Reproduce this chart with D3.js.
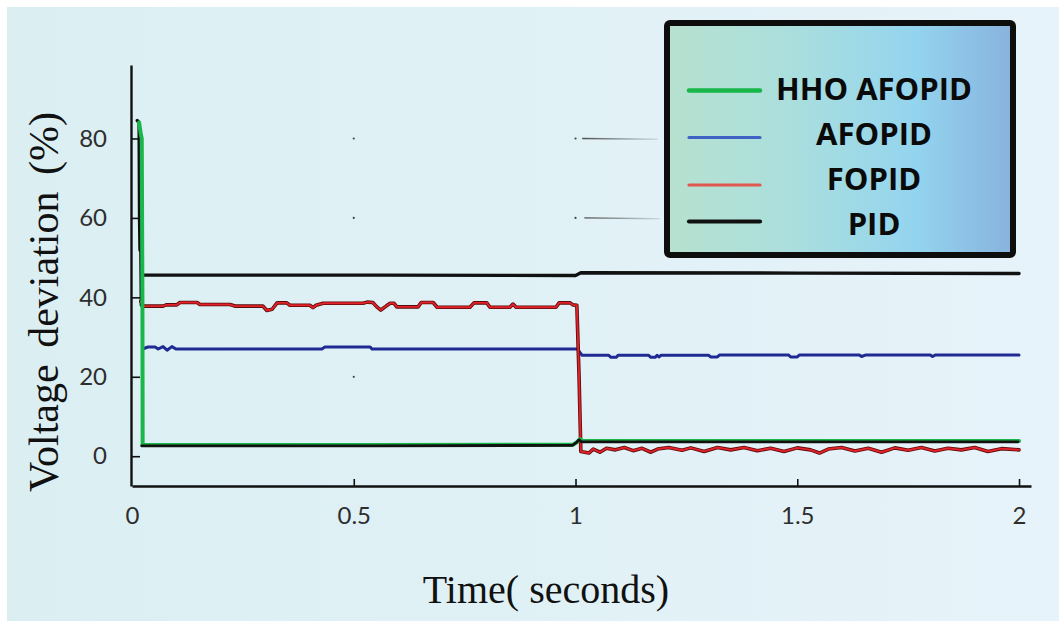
<!DOCTYPE html>
<html>
<head>
<meta charset="utf-8">
<script src="https://cdn.jsdelivr.net/npm/d3@7"></script>
<style>
  html, body { margin: 0; padding: 0; background: #ffffff; }
  svg { display: block; }
</style>
</head>
<body>
<svg id="chart" width="1059" height="621"></svg>
<script>
// ---- data ---------------------------------------------------------------
const xTicks = [0, 0.5, 1, 1.5, 2];
const yTicks = [0, 20, 40, 60, 80];
const seriesNames = ["HHO AFOPID", "AFOPID", "FOPID", "PID"];

// [time (s), voltage deviation (%)]
const hhoAfopid = [
  [0.016, 84], [0.020, 81], [0.022, 80], [0.0235, 40], [0.024, 2.8],
  [0.55, 2.8], [0.995, 2.9], [1.004, 3.6], [1.010, 4.3], [1.016, 3.8],
  [1.5, 3.8], [2.0, 3.8]
];

const afopid = [
  [0.024, 27.0], [0.036, 27.5], [0.052, 27.5], [0.059, 27.0], [0.070, 27.6],
  [0.079, 26.7], [0.090, 27.6], [0.099, 27.0], [0.428, 27.0], [0.435, 27.5],
  [0.537, 27.5], [0.541, 27.0], [1.004, 27.0], [1.015, 25.4], [1.075, 25.4],
  [1.080, 24.9], [1.092, 24.9], [1.096, 25.4], [1.165, 25.4], [1.170, 24.9],
  [1.180, 24.9], [1.184, 25.4], [1.188, 25.0], [1.193, 25.4], [1.300, 25.4],
  [1.305, 25.0], [1.320, 25.0], [1.325, 25.5], [1.480, 25.5], [1.485, 25.0],
  [1.500, 25.0], [1.505, 25.5], [1.640, 25.5], [1.645, 25.1], [1.655, 25.5],
  [1.800, 25.5], [1.805, 25.1], [1.812, 25.5], [2.0, 25.5]
];

const fopid = [
  [0.020, 39.0], [0.025, 37.8], [0.070, 37.8], [0.077, 38.1], [0.101, 38.1],
  [0.108, 38.7], [0.147, 38.7], [0.153, 38.2], [0.221, 38.2], [0.232, 37.8],
  [0.295, 37.8], [0.304, 36.7], [0.316, 37.0], [0.327, 38.6], [0.349, 38.6],
  [0.356, 38.0], [0.401, 38.0], [0.408, 37.4], [0.415, 38.0], [0.431, 38.5],
  [0.521, 38.5], [0.530, 38.8], [0.543, 38.7], [0.552, 37.6], [0.561, 36.8],
  [0.573, 37.8], [0.582, 38.5], [0.591, 38.5], [0.597, 37.6], [0.645, 37.6],
  [0.652, 38.7], [0.679, 38.7], [0.688, 37.5], [0.762, 37.5], [0.771, 38.6],
  [0.800, 38.6], [0.807, 37.5], [0.852, 37.5], [0.859, 38.3], [0.866, 37.5],
  [0.956, 37.5], [0.963, 38.6], [0.988, 38.6], [0.994, 38.1], [1.003, 38.0],
  [1.008, 20.0], [1.012, 1.2], [1.030, 0.8], [1.040, 1.8], [1.055, 1.0],
  [1.070, 2.0], [1.090, 1.6], [1.110, 2.2], [1.130, 1.4], [1.150, 2.0],
  [1.170, 1.0], [1.185, 1.8], [1.210, 2.2], [1.240, 1.5], [1.260, 2.1],
  [1.290, 1.2], [1.320, 2.2], [1.350, 1.6], [1.380, 2.2], [1.410, 1.4],
  [1.440, 2.0], [1.470, 1.2], [1.500, 2.1], [1.530, 1.6], [1.550, 0.8],
  [1.570, 1.8], [1.600, 2.2], [1.630, 1.3], [1.660, 2.0], [1.690, 1.0],
  [1.720, 2.1], [1.750, 1.5], [1.780, 2.2], [1.810, 1.3], [1.840, 2.0],
  [1.870, 1.6], [1.900, 2.2], [1.930, 1.2], [1.960, 1.9], [2.0, 1.6]
];

const pid = [
  [0.012, 84.5], [0.016, 84], [0.017, 60], [0.018, 52], [0.020, 51.5],
  [0.021, 38], [0.023, 45.6], [0.55, 45.6], [1.0, 45.5], [1.012, 46.2],
  [1.5, 46.1], [2.0, 46.0]
];

// faint remnants of grid marks
const gridDots = [[0.5, 80], [0.5, 60], [0.5, 20], [1.0, 80], [1.0, 60]];
const gridStubs = [[1.015, 1.185, 80], [1.02, 1.19, 60]];

// ---- layout ---------------------------------------------------------------
const svg = d3.select("#chart");
const x = d3.scaleLinear().domain([0, 2.027]).range([132, 1031]);
const y = d3.scaleLinear().domain([-7.5, 98.5]).range([486, 65]);

const defs = svg.append("defs");
const bg = defs.append("linearGradient").attr("id", "bgGrad")
  .attr("x1", "0").attr("x2", "1").attr("y1", "0").attr("y2", "0");
bg.append("stop").attr("offset", "0").attr("stop-color", "#dbeff3");
bg.append("stop").attr("offset", "0.5").attr("stop-color", "#e0f1f6");
bg.append("stop").attr("offset", "1").attr("stop-color", "#e7f3fa");

const lg = defs.append("linearGradient").attr("id", "legGrad")
  .attr("x1", "0").attr("x2", "1").attr("y1", "0").attr("y2", "0");
lg.append("stop").attr("offset", "0").attr("stop-color", "#b7e1cf");
lg.append("stop").attr("offset", "0.35").attr("stop-color", "#abdfdd");
lg.append("stop").attr("offset", "0.72").attr("stop-color", "#93d4ee");
lg.append("stop").attr("offset", "1").attr("stop-color", "#88b2de");

const stubGrad = defs.append("linearGradient").attr("id", "stubGrad")
  .attr("x1", "0").attr("x2", "1").attr("y1", "0").attr("y2", "0");
stubGrad.append("stop").attr("offset", "0").attr("stop-color", "#333").attr("stop-opacity", 0.85);
stubGrad.append("stop").attr("offset", "1").attr("stop-color", "#555").attr("stop-opacity", 0.15);

// background panel
svg.append("rect").attr("x", 7).attr("y", 7).attr("width", 1052).attr("height", 614)
  .attr("fill", "url(#bgGrad)");

// grid remnants
svg.append("g").selectAll("circle").data(gridDots).join("circle")
  .attr("cx", d => x(d[0])).attr("cy", d => y(d[1])).attr("r", 1.1)
  .attr("fill", "#3a4a4a");
svg.append("g").selectAll("line").data(gridStubs).join("line")
  .attr("x1", d => x(d[0])).attr("x2", d => x(d[1]))
  .attr("y1", d => y(d[2])).attr("y2", d => y(d[2]) + 0.8)
  .attr("stroke", "url(#stubGrad)").attr("stroke-width", 1.4);

// axes
const xAxis = d3.axisBottom(x).tickValues(xTicks).tickFormat(d => String(d))
  .tickSizeInner(-7).tickSizeOuter(0).tickPadding(21);
const yAxis = d3.axisLeft(y).tickValues(yTicks).tickFormat(d => String(d))
  .tickSizeInner(-9).tickSizeOuter(0).tickPadding(24);

const gx = svg.append("g").attr("transform", "translate(0,486)").call(xAxis);
const gy = svg.append("g").attr("transform", "translate(131,0)").call(yAxis);
[gx, gy].forEach(g => {
  g.select(".domain").attr("stroke", "#111").attr("stroke-width", 2.4);
  g.selectAll(".tick line").attr("stroke", "#111").attr("stroke-width", 1.6);
  g.selectAll(".tick text").attr("fill", "#2e2e2e")
    .style("font-family", "Lato, 'Open Sans', sans-serif")
    .style("font-size", "24px");
});
gx.selectAll(".tick").filter(d => d === 0).select("line").remove();

// series
const line = d3.line().x(d => x(d[0])).y(d => y(d[1])).curve(d3.curveLinear);
const plot = svg.append("g").attr("fill", "none")
  .attr("stroke-linejoin", "round").attr("stroke-linecap", "round");

plot.append("path").datum(pid).attr("d", line)
  .attr("stroke", "#111").attr("stroke-width", 3.4);

plot.append("path").datum(afopid).attr("d", line)
  .attr("stroke", "#1f2b92").attr("stroke-width", 3);

plot.append("path").datum(fopid).attr("d", line)
  .attr("stroke", "#5a0a0a").attr("stroke-width", 3.6);
plot.append("path").datum(fopid).attr("d", line)
  .attr("stroke", "#e3222a").attr("stroke-width", 1.9);

plot.append("path").datum(hhoAfopid).attr("d", line)
  .attr("stroke", "#19b64a").attr("stroke-width", 4);
// dark trace along the settled part of the HHO AFOPID response
plot.append("path").datum(hhoAfopid.filter(d => d[0] >= 0.024)).attr("d", line)
  .attr("transform", "translate(-1,0.7)")
  .attr("stroke", "#111").attr("stroke-width", 2.8);

// axis titles
svg.append("text")
  .attr("transform", "translate(58,302) rotate(-90)")
  .attr("text-anchor", "middle")
  .style("font-family", "'Liberation Serif', 'DejaVu Serif', serif")
  .style("font-size", "42px").style("word-spacing", "6px").attr("fill", "#111")
  .text("Voltage deviation (%)");

svg.append("text")
  .attr("x", 546).attr("y", 603)
  .attr("text-anchor", "middle")
  .style("font-family", "'Liberation Serif', 'DejaVu Serif', serif")
  .style("font-size", "40px").attr("fill", "#111")
  .text("Time( seconds)");

// legend
const legendColors = ["#19b64a", "#3f63c4", "#e0574f", "#111"];
const legendWidths = [4.5, 3.2, 3.2, 4.2];
const legendLineY = [90.5, 137.5, 185, 221.5];
const legendTextY = [100, 145, 190, 235];

const leg = svg.append("g");
leg.append("rect").attr("x", 667).attr("y", 23).attr("width", 346).attr("height", 232)
  .attr("rx", 3).attr("fill", "url(#legGrad)")
  .attr("stroke", "#0d0d0d").attr("stroke-width", 6);

const items = leg.selectAll("g.item").data(seriesNames).join("g").attr("class", "item");
items.append("line")
  .attr("x1", 689).attr("x2", 760)
  .attr("y1", (d, i) => legendLineY[i]).attr("y2", (d, i) => legendLineY[i])
  .attr("stroke", (d, i) => legendColors[i])
  .attr("stroke-width", (d, i) => legendWidths[i])
  .attr("stroke-linecap", "round");
items.append("text")
  .attr("x", 874).attr("y", (d, i) => legendTextY[i])
  .attr("text-anchor", "middle")
  .style("font-family", "'Open Sans', 'Noto Sans', sans-serif")
  .style("font-weight", "700").style("font-size", "31px")
  .attr("fill", "#0a0a0a")
  .text(d => d);
</script>
</body>
</html>
